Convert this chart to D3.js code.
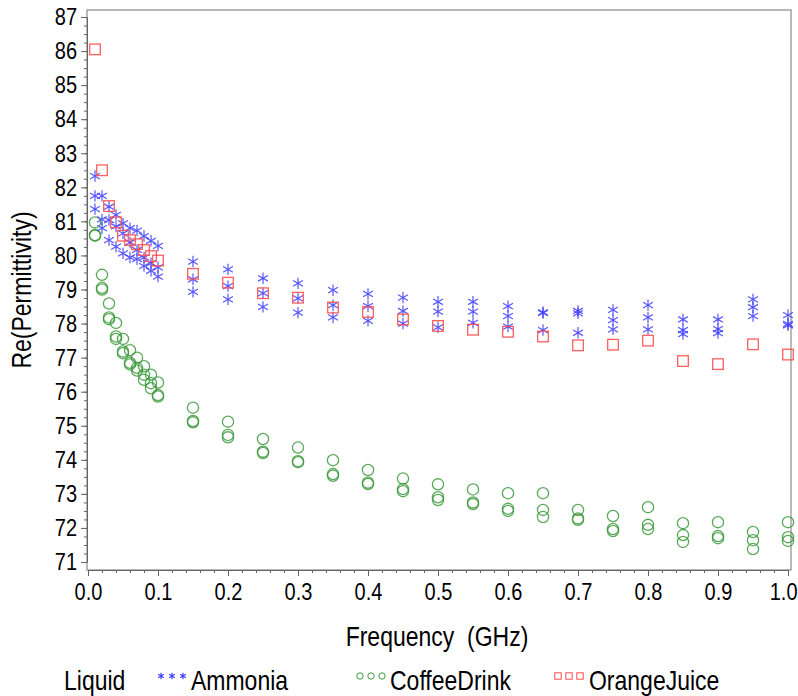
<!DOCTYPE html>
<html>
<head>
<meta charset="utf-8">
<script src="https://cdn.jsdelivr.net/npm/d3@7"></script>
<style>
  html, body { margin: 0; padding: 0; background: #fff; }
  svg text { font-family: "Liberation Sans", Arial, sans-serif; fill: #000;
             transform-box: fill-box; transform-origin: center; transform: scaleY(1.2); }
</style>
</head>
<body>
<svg id="chart" width="798" height="696"></svg>
<script>
// ---------------- data ----------------
const frequencies = [0.01,0.02,0.03,0.04,0.05,0.06,0.07,0.08,0.09,0.10,
  0.15,0.20,0.25,0.30,0.35,0.40,0.45,0.50,0.55,0.60,0.65,0.70,0.75,0.80,0.85,0.90,0.95,1.00];

const ammoniaRun1 = [82.33,81.75,81.43,81.19,80.94,80.80,80.73,80.57,80.43,80.28,
  79.82,79.59,79.33,79.18,78.98,78.87,78.76,78.64,78.64,78.51,78.33,78.37,78.40,78.54,78.12,78.12,78.71,78.25];
const ammoniaRun2 = [81.75,81.06,81.04,80.85,80.65,80.38,80.16,79.94,79.77,79.65,
  79.30,79.10,78.89,78.74,78.54,78.51,78.37,78.35,78.35,78.22,78.31,78.30,78.10,78.18,77.81,77.84,78.48,77.99];
const ammoniaRun3 = [81.36,80.80,80.45,80.26,80.06,79.94,79.89,79.69,79.55,79.38,
  78.93,78.71,78.49,78.32,78.18,78.08,78.00,77.89,78.02,77.91,77.81,77.73,77.83,77.83,77.69,77.72,78.22,77.95];

const coffeeRun1 = [80.97,79.43,78.59,78.02,77.55,77.22,77.00,76.75,76.50,76.27,
  75.53,75.12,74.61,74.36,73.99,73.70,73.45,73.28,73.13,73.02,73.02,72.53,72.35,72.61,72.14,72.17,71.88,72.17];
const coffeeRun2 = [80.60,79.05,78.18,77.62,77.18,76.85,76.70,76.50,76.25,75.90,
  75.14,74.73,74.24,73.96,73.58,73.33,73.14,72.90,72.75,72.56,72.53,72.28,71.97,72.09,71.79,71.76,71.64,71.73];
const coffeeRun3 = [80.58,79.00,78.13,77.55,77.13,76.80,76.62,76.35,76.10,75.86,
  75.10,74.66,74.20,73.93,73.53,73.29,73.08,72.82,72.70,72.50,72.32,72.24,71.91,71.97,71.59,71.70,71.38,71.62];

const orangeJuice = [86.05,82.50,81.45,80.97,80.58,80.45,80.33,80.16,79.98,79.85,
  79.46,79.20,78.89,78.76,78.47,78.34,78.12,77.93,77.82,77.76,77.62,77.36,77.38,77.50,76.90,76.81,77.39,77.09];

const xTickLabels = ["0.0","0.1","0.2","0.3","0.4","0.5","0.6","0.7","0.8","0.9","1.0"];
const yTickValues = [71,72,73,74,75,76,77,78,79,80,81,82,83,84,85,86,87];
const legendNames = ["Ammonia","CoffeeDrink","OrangeJuice"];
const seriesColors = ["#3b3bff","#3c9a3c","#ff4c4c"];

// ---------------- layout ----------------
const W = 798;
const svg = d3.select("#chart");
const frame = {left: 87, right: 791, top: 10, bottom: 570};
const x = d3.scaleLinear().domain([0, 1]).range([88, 788]);
const y = d3.scaleLinear().domain([71, 87]).range([562, 17]);

// frame
svg.append("rect")
  .attr("x", frame.left).attr("y", frame.top)
  .attr("width", frame.right - frame.left).attr("height", frame.bottom - frame.top)
  .attr("fill", "none").attr("stroke", "#8a8a8a").attr("stroke-width", 1.2);

// x axis: minor ticks
const xMinor = d3.range(0, 51).map(i => i * 0.02);
svg.append("g").attr("transform", `translate(0,${frame.bottom})`)
  .call(d3.axisBottom(x).tickValues(xMinor).tickSize(3).tickFormat(""))
  .call(g => g.select(".domain").remove())
  .call(g => g.selectAll("line").attr("stroke", "#666"));
// x axis: major
const xAxisG = svg.append("g").attr("transform", `translate(0,${frame.bottom})`)
  .call(d3.axisBottom(x).tickValues(xTickLabels.map(Number)).tickSize(6)
        .tickFormat((d, i) => xTickLabels[i]).tickPadding(8));
xAxisG.select(".domain").attr("stroke", "#666");
xAxisG.selectAll("line").attr("stroke", "#666");
xAxisG.selectAll("text").attr("font-size", 20).attr("fill", "#000");
// keep the last label inside the page
xAxisG.selectAll("text").filter(d => d === 1)
  .attr("text-anchor", "end").attr("x", W - 1 - x(1));

// y axis: minor ticks
const yMinor = d3.range(0, 65).map(i => 71 + i * 0.25);
svg.append("g").attr("transform", `translate(${frame.left},0)`)
  .call(d3.axisLeft(y).tickValues(yMinor).tickSize(3).tickFormat(""))
  .call(g => g.select(".domain").remove())
  .call(g => g.selectAll("line").attr("stroke", "#666"));
// y axis: major
const yAxisG = svg.append("g").attr("transform", `translate(${frame.left},0)`)
  .call(d3.axisLeft(y).tickValues(yTickValues).tickSize(6).tickFormat(d3.format("d")).tickPadding(4));
yAxisG.select(".domain").attr("stroke", "#666");
yAxisG.selectAll("line").attr("stroke", "#666");
yAxisG.selectAll("text").attr("font-size", 20).attr("fill", "#000");

// axis titles
svg.append("text")
  .attr("x", (frame.left + frame.right) / 2 - 2).attr("y", 644)
  .attr("text-anchor", "middle").attr("font-size", 23)
  .attr("xml:space", "preserve")
  .text("Frequency  (GHz)");

svg.append("g").attr("transform", "translate(29,290) rotate(-90)")
  .append("text").attr("text-anchor", "middle").attr("font-size", 23)
  .text("Re(Permittivity)");

// ---------------- markers ----------------
function asteriskPath(r) {
  const c = r * Math.cos(Math.PI / 6), s = r * Math.sin(Math.PI / 6);
  return `M0,${-r}L0,${r}M${-c},${-s}L${c},${s}M${-c},${s}L${c},${-s}`;
}
const plot = svg.append("g");

function drawSeries(values, kind, color) {
  const pts = frequencies.map((f, i) => ({f, v: values[i]}));
  const g = plot.append("g");
  if (kind === "asterisk") {
    g.selectAll("path").data(pts).join("path")
      .attr("transform", d => `translate(${x(d.f)},${y(d.v)})`)
      .attr("d", asteriskPath(5.7))
      .attr("fill", "none").attr("stroke", color).attr("stroke-width", 1.2).attr("stroke-opacity", 0.85);
  } else if (kind === "circle") {
    g.selectAll("circle").data(pts).join("circle")
      .attr("cx", d => x(d.f)).attr("cy", d => y(d.v)).attr("r", 5.6)
      .attr("fill", "none").attr("stroke", color).attr("stroke-width", 1.3).attr("stroke-opacity", 0.85);
  } else {
    g.selectAll("rect").data(pts).join("rect")
      .attr("x", d => x(d.f) - 5.3).attr("y", d => y(d.v) - 5.3)
      .attr("width", 10.6).attr("height", 10.6)
      .attr("fill", "none").attr("stroke", color).attr("stroke-width", 1.3).attr("stroke-opacity", 0.9);
  }
}
drawSeries(coffeeRun1, "circle", seriesColors[1]);
drawSeries(coffeeRun2, "circle", seriesColors[1]);
drawSeries(coffeeRun3, "circle", seriesColors[1]);
drawSeries(ammoniaRun1, "asterisk", seriesColors[0]);
drawSeries(ammoniaRun2, "asterisk", seriesColors[0]);
drawSeries(ammoniaRun3, "asterisk", seriesColors[0]);
drawSeries(orangeJuice, "square", seriesColors[2]);

// ---------------- legend ----------------
const legY = 688;
const leg = svg.append("g");
leg.append("text").attr("x", 64).attr("y", legY).attr("font-size", 23).text("Liquid");
const legendItems = [
  {name: legendNames[0], kind: "asterisk", mx: 161, tx: 191},
  {name: legendNames[1], kind: "circle", mx: 360, tx: 390},
  {name: legendNames[2], kind: "square", mx: 558, tx: 589}
];
legendItems.forEach((it, k) => {
  const color = seriesColors[k];
  for (let j = 0; j < 3; j++) {
    const cx = it.mx + j * 11, cy = legY - 12;
    if (it.kind === "asterisk") {
      leg.append("path").attr("transform", `translate(${cx},${cy})`).attr("d", asteriskPath(3.3))
        .attr("fill", "none").attr("stroke", color).attr("stroke-width", 1.1);
    } else if (it.kind === "circle") {
      leg.append("circle").attr("cx", cx).attr("cy", cy).attr("r", 3.2)
        .attr("fill", "none").attr("stroke", color).attr("stroke-width", 1);
    } else {
      leg.append("rect").attr("x", cx - 3.2).attr("y", cy - 3.2).attr("width", 6.4).attr("height", 6.4)
        .attr("fill", "none").attr("stroke", color).attr("stroke-width", 1);
    }
  }
  leg.append("text").attr("x", it.tx).attr("y", legY).attr("font-size", 23).text(it.name);
});
</script>
</body>
</html>
